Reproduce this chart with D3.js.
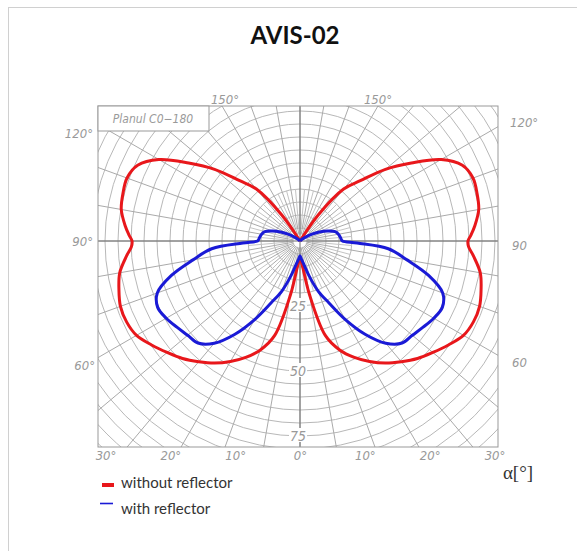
<!DOCTYPE html>
<html>
<head>
<meta charset="utf-8">
<script src="https://cdn.jsdelivr.net/npm/d3@7"></script>
<style>
  body { margin: 0; background: #fff; }
  .grid-label { font-family: "Liberation Sans Narrow", "DejaVu Sans Condensed", sans-serif; font-style: italic; fill: #999; font-size: 13px; }
</style>
</head>
<body>
<svg id="chart" width="577" height="551"></svg>
<script>
// polar photometric data, angle measured from the downward vertical (C0-180 plane, symmetric)
const angles = [0, 5, 10, 15, 20, 25, 30, 35, 40, 45, 50, 55, 60, 65, 70, 75, 80, 85, 88, 90, 92,
  95, 100, 105, 110, 115, 120, 125, 130, 135, 140, 145, 150, 155, 160, 165, 170, 175, 180];
const withoutReflector = [6.5, 9.1, 20.8, 37.6, 44.6, 49.4, 53.5, 57.3, 60.6, 63.9, 66.7, 69.7, 72.6, 73.6, 73.5, 72.1, 70.4, 67, 64.9, 64.6, 65.8,
  67.5, 69.8, 70.5, 70.8, 68.9, 62.7, 52.3, 42.9, 32.8, 26.1, 12.2, 0, 0, 0, 0, 0, 0, 0];
const withReflector = [5.8, 7.2, 9.5, 14.3, 20.6, 26.2, 34.9, 43.9, 51.3, 55.5, 56.4, 57.8, 59.4, 60.4, 58.4, 51.2, 41.8, 34.1, 22, 16.3, 15.9,
  15.6, 15.0, 14.0, 11.3, 8.2, 5.3, 2.8, 1, 0, 0, 0, 0, 0, 0, 0, 0, 0, 0];

const seriesNames = ["without reflector", "with reflector"];
const seriesColors = ["#e8171b", "#1a1ad6"];
const radiusLabels = [25, 50, 75];
const alphaTicks = [-30, -20, -10, 0, 10, 20, 30];

const svg = d3.select("#chart");

// card outline
svg.append("rect")
  .attr("x", 8.5).attr("y", 7.5)
  .attr("width", 620).attr("height", 620)
  .attr("fill", "#fff")
  .attr("stroke", "#d0d0d0");

svg.append("text")
  .attr("x", 295).attr("y", 44)
  .attr("text-anchor", "middle")
  .style("font-family", "Lato, 'Open Sans', sans-serif")
  .style("font-weight", 700)
  .style("font-size", "24px")
  .style("fill", "#111")
  .text("AVIS-02");

// plot frame
const frame = { x0: 98, y0: 106, x1: 498, y1: 447 };
const cx = 300, cy = 241;
const r = d3.scaleLinear().domain([0, 80]).range([0, 208]);

svg.append("clipPath").attr("id", "frameClip")
  .append("rect")
  .attr("x", frame.x0).attr("y", frame.y0)
  .attr("width", frame.x1 - frame.x0).attr("height", frame.y1 - frame.y0);

const grid = svg.append("g").attr("clip-path", "url(#frameClip)");
const g = grid.append("g").attr("transform", `translate(${cx},${cy})`);

// concentric circles every 5 units
g.selectAll(".ring")
  .data(d3.range(5, 116, 5))
  .enter().append("circle")
  .attr("r", d => r(d))
  .attr("fill", "none")
  .attr("stroke", "#b8b8b8")
  .attr("stroke-width", 1);

// radial lines: every 10 deg full length, every 5 deg near the centre
const toXY = (deg, v) => {
  const a = deg * Math.PI / 180;
  return [Math.sin(a) * r(v), Math.cos(a) * r(v)];
};
g.selectAll(".spoke")
  .data(d3.range(0, 360, 10))
  .enter().append("line")
  .attr("x1", d => toXY(d, 2.5)[0]).attr("y1", d => toXY(d, 2.5)[1])
  .attr("x2", d => toXY(d, 120)[0]).attr("y2", d => toXY(d, 120)[1])
  .attr("stroke", "#aaa");
g.selectAll(".spoke5")
  .data(d3.range(5, 360, 10))
  .enter().append("line")
  .attr("x1", d => toXY(d, 5)[0]).attr("y1", d => toXY(d, 5)[1])
  .attr("x2", d => toXY(d, 20)[0]).attr("y2", d => toXY(d, 20)[1])
  .attr("stroke", "#c4c4c4");

// main axes
grid.append("line").attr("x1", frame.x0).attr("x2", frame.x1).attr("y1", cy).attr("y2", cy)
  .attr("stroke", "#6e6e6e");
grid.append("line").attr("x1", cx).attr("x2", cx).attr("y1", frame.y0).attr("y2", frame.y1)
  .attr("stroke", "#6e6e6e");

svg.append("rect")
  .attr("x", frame.x0).attr("y", frame.y0)
  .attr("width", frame.x1 - frame.x0).attr("height", frame.y1 - frame.y0)
  .attr("fill", "none").attr("stroke", "#999");

// radius labels on the vertical axis
radiusLabels.forEach(v => {
  svg.append("rect")
    .attr("x", cx - 11).attr("y", cy + r(v) - 8)
    .attr("width", 18).attr("height", 14)
    .attr("fill", "#fff");
  svg.append("text")
    .attr("class", "grid-label")
    .attr("x", cx - 2).attr("y", cy + r(v) + 5)
    .attr("text-anchor", "middle")
    .style("font-size", "14px")
    .text(v);
});

// plane box
svg.append("rect")
  .attr("x", frame.x0).attr("y", frame.y0)
  .attr("width", 111).attr("height", 25)
  .attr("fill", "#fff").attr("stroke", "#999");
svg.append("text")
  .attr("class", "grid-label")
  .attr("x", 153).attr("y", 123)
  .attr("text-anchor", "middle")
  .style("font-size", "12px")
  .text("Planul C0\u2212180");

// angle labels around the frame
const sideLabels = [
  { t: "150\u00b0", x: 225, y: 104, a: "middle" },
  { t: "150\u00b0", x: 378, y: 104, a: "middle" },
  { t: "120\u00b0", x: 93, y: 138, a: "end" },
  { t: "90\u00b0", x: 93, y: 246, a: "end" },
  { t: "60\u00b0", x: 95, y: 370, a: "end" },
  { t: "120\u00b0", x: 510, y: 127, a: "start" },
  { t: "90", x: 512, y: 250, a: "start" },
  { t: "60", x: 512, y: 367, a: "start" }
];
svg.selectAll(".side-label")
  .data(sideLabels)
  .enter().append("text")
  .attr("class", "grid-label")
  .attr("x", d => d.x).attr("y", d => d.y)
  .attr("text-anchor", d => d.a)
  .text(d => d.t);

const alphaX = d3.scaleLinear().domain([-30, 30]).range([106, 495]);
svg.selectAll(".alpha-label")
  .data(alphaTicks)
  .enter().append("text")
  .attr("class", "grid-label")
  .attr("x", d => alphaX(d)).attr("y", 460)
  .attr("text-anchor", "middle")
  .text(d => Math.abs(d) + "\u00b0");

svg.append("text")
  .attr("x", 518).attr("y", 479)
  .attr("text-anchor", "middle")
  .style("font-family", "'Liberation Serif', 'DejaVu Serif', serif")
  .style("font-size", "19px")
  .style("fill", "#333")
  .text("\u03b1[\u00b0]");

// curves: right half from 180 down to 0, then left half back up to 180
const curveLine = d3.lineRadial()
  .angle(d => d[0])
  .radius(d => r(d[1]))
  .curve(d3.curveCatmullRomClosed.alpha(0.5));

function polarPoints(values) {
  const pts = [];
  for (let i = angles.length - 1; i >= 0; i--) pts.push([Math.PI - angles[i] * Math.PI / 180, values[i]]);
  for (let i = 1; i < angles.length - 1; i++) pts.push([Math.PI + angles[i] * Math.PI / 180, values[i]]);
  return pts;
}

const plot = svg.append("g").attr("transform", `translate(${cx},${cy})`);
[withoutReflector, withReflector].forEach((vals, i) => {
  plot.append("path")
    .attr("d", curveLine(polarPoints(vals)))
    .attr("fill", "none")
    .attr("stroke", seriesColors[i])
    .attr("stroke-width", 3)
    .attr("stroke-linejoin", "round");
});

// legend
const legend = svg.append("g");
legend.append("rect").attr("x", 102).attr("y", 483).attr("width", 12).attr("height", 4)
  .attr("fill", seriesColors[0]);
legend.append("line").attr("x1", 100).attr("x2", 113).attr("y1", 503.5).attr("y2", 503.5)
  .attr("stroke", seriesColors[1]).attr("stroke-width", 1.6);
seriesNames.forEach((name, i) => {
  legend.append("text")
    .attr("x", 121).attr("y", 488 + i * 26)
    .style("font-family", "Lato, 'Open Sans', sans-serif")
    .style("font-size", "15px")
    .style("fill", "#333")
    .text(name);
});
</script>
</body>
</html>
